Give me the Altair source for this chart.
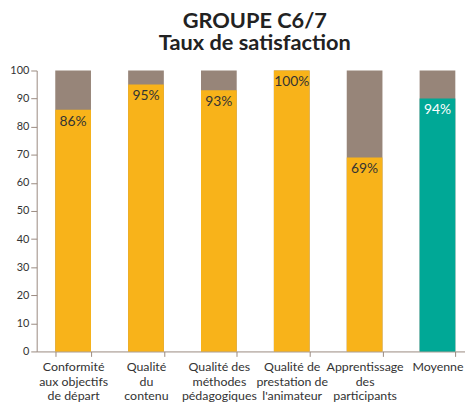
import altair as alt
import pandas as pd

categories = [
    "Conformité|aux objectifs|de départ",
    "Qualité|du|contenu",
    "Qualité des|méthodes|pédagogiques",
    "Qualité de|prestation de|l'animateur",
    "Apprentissage|des|participants",
    "Moyenne",
]
bar_values = [86, 95, 93, 100, 69, 90]
labels = ["86%", "95%", "93%", "100%", "69%", "94%"]
bar_colors = ["#F8B31A", "#F8B31A", "#F8B31A", "#F8B31A", "#F8B31A", "#00A896"]
text_colors = ["#333333", "#333333", "#333333", "#333333", "#333333", "#FFFFFF"]
total = [100] * 6
y_ticks = [0, 10, 20, 30, 40, 50, 60, 70, 80, 90, 100]

df = pd.DataFrame({
    "cat": categories,
    "value": bar_values,
    "label": labels,
    "color": bar_colors,
    "tcolor": text_colors,
    "total": total,
})

FONT = "Lato"
AXIS_COLOR = "#9A8A80"

x = alt.X(
    "cat:N",
    sort=None,
    title=None,
    scale=alt.Scale(range=[0, 442], paddingInner=0.51, paddingOuter=0.255),
    axis=alt.Axis(
        labelExpr="split(datum.label, '|')",
        labelAngle=0,
        labelFont=FONT,
        labelFontSize=12.5,
        labelColor="#333333",
        labelLineHeight=15,
        labelPadding=4,
        tickBand="extent",
        tickSize=5,
        tickColor=AXIS_COLOR,
        domainColor=AXIS_COLOR,
        labelBaseline="top",
        labelOverlap=False,
    ),
)

y_axis = alt.Axis(
    values=y_ticks,
    tickCount=11,
    labelFont=FONT,
    labelFontSize=11,
    labelColor="#333333",
    tickSize=6,
    tickColor=AXIS_COLOR,
    domainColor=AXIS_COLOR,
    labelPadding=2,
    labelOverlap=False,
    labelFlush=False,
    grid=False,
)
y_scale = alt.Scale(domain=[0, 100], nice=False)

base = alt.Chart(df)

grey = base.mark_bar(color="#978579").encode(
    x=x,
    y=alt.Y("total:Q", title=None, scale=y_scale, axis=y_axis),
)

bars = base.mark_bar().encode(
    x=x,
    y=alt.Y("value:Q", title=None, scale=y_scale, axis=y_axis),
    color=alt.Color("color:N", scale=None),
)

text = base.mark_text(baseline="middle", align="center", dy=12, font=FONT, fontSize=14).encode(
    x=x,
    y=alt.Y("value:Q", title=None, scale=y_scale, axis=y_axis),
    text="label:N",
    color=alt.Color("tcolor:N", scale=None),
)

chart = (
    alt.layer(grey, bars, text)
    .properties(
        width=433,
        height=284,
        autosize=alt.AutoSizeParams(type="none"),
        padding={"left": 29, "top": 61, "right": 0, "bottom": 55},
        title=alt.Title(
            "GROUPE C6/7",
            subtitle="Taux de satisfaction",
            font=FONT,
            fontSize=22,
            fontWeight="bold",
            color="#222222",
            subtitleFont=FONT,
            subtitleFontSize=22,
            subtitleFontWeight="bold",
            subtitleColor="#222222",
            subtitlePadding=0,
            anchor="middle",
            dx=4,
            offset=10,
        ),
    )
    .configure_view(stroke=None)
)

chart.save("out.html", embed_options={"renderer": "svg", "actions": False})
